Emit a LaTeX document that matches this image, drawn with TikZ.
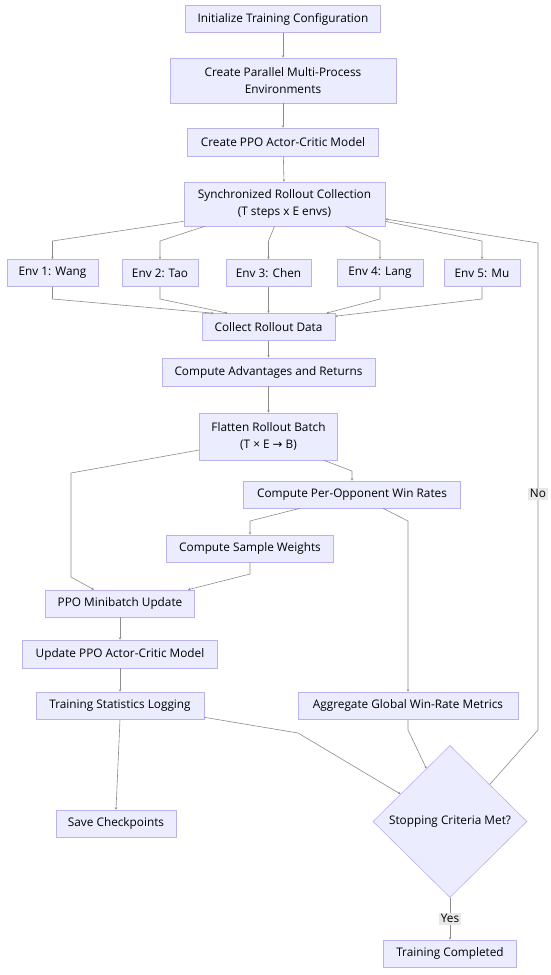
\documentclass[tikz,border=0pt]{standalone}
\usepackage{fontspec}
\setmainfont{Open Sans}
\newfontfamily\arrowfont{DejaVu Sans}
\usetikzlibrary{arrows.meta,shapes.geometric}
\definecolor{boxfill}{HTML}{ECECFF}
\definecolor{boxline}{HTML}{BAB2EC}
\definecolor{edgeline}{HTML}{8C8C8C}
\definecolor{labelfill}{HTML}{E8E8E8}

\begin{document}
\begin{tikzpicture}[x=1pt, y=-1pt,
    box/.style={draw=boxline, fill=boxfill, line width=0.6pt, inner sep=0pt, align=center,
      minimum height=27pt, font=\fontsize{11.8}{17}\selectfont},
    flow/.style={draw=edgeline, line width=0.6pt, -{Stealth[length=2.5pt, width=2.5pt]}},
    lbl/.style={fill=labelfill, inner sep=1.5pt, font=\fontsize{11.8}{13}\selectfont}]
    \useasboundingbox[fill=white] (0,0) rectangle (550,975);

    % setup
    \node[box, minimum width=195pt] (init) at (283,19) {Initialize Training Configuration};
    \node[box, minimum width=226pt, minimum height=45pt] (parallel) at (283,80.5) {Create Parallel Multi-Process\\Environments};
    \node[box, minimum width=191pt, minimum height=28pt] (model) at (283,142) {Create PPO Actor-Critic Model};
    \node[box, minimum width=201pt, minimum height=44pt] (sync) at (284.5,204) {Synchronized Rollout Collection\\(T steps x E envs)};

    % environments
    \node[box, minimum width=91pt] (env1) at (52.5,273) {Env 1: Wang};
    \node[box, minimum width=76pt] (env2) at (160,273) {Env 2: Tao};
    \node[box, minimum width=85pt] (env3) at (268.5,273) {Env 3: Chen};
    \node[box, minimum width=86pt] (env4) at (380,273) {Env 4: Lang};
    \node[box, minimum width=76pt] (env5) at (482,273) {Env 5: Mu};

    % rollout processing
    \node[box, minimum width=133pt] (collect) at (268.5,327) {Collect Rollout Data};
    \node[box, minimum width=213pt, minimum height=28pt] (advantages) at (268.5,372) {Compute Advantages and Returns};
    \node[box, minimum width=138pt, minimum height=47pt] (flatten) at (268.5,436.5) {Flatten Rollout Batch\\(T × E {\arrowfont →} B)};
    \node[box, minimum width=217pt] (winrates) at (352,494.5) {Compute Per-Opponent Win Rates};
    \node[box, minimum width=167pt] (weights) at (250,548.5) {Compute Sample Weights};

    % update and logging
    \node[box, minimum width=149pt] (minibatch) at (120,603.5) {PPO Minibatch Update};
    \node[box, minimum width=195pt, minimum height=28pt] (update) at (120,654) {Update PPO Actor-Critic Model};
    \node[box, minimum width=168pt] (stats) at (120,705.5) {Training Statistics Logging};
    \node[box, minimum width=220pt] (aggregate) at (408,705.5) {Aggregate Global Win-Rate Metrics};
    \node[box, minimum width=120pt] (save) at (116,823.5) {Save Checkpoints};
    \node[box, diamond, minimum width=154pt, minimum height=152pt] (stop) at (450,821.5) {Stopping Criteria Met?};
    \node[box, minimum width=133pt] (done) at (450,953.5) {Training Completed};

    \draw[flow] (init) -- (parallel);
    \draw[flow] (parallel) -- (model);
    \draw[flow] (model) -- (sync);

    \draw[flow] ([yshift=5pt]sync.south west) -- (52.5,241) -- (env1.north);
    \draw[flow] ([xshift=21pt]sync.south west) -- (160,241) -- (env2.north);
    \draw[flow] ([xshift=-10pt]sync.south) -- (268.5,241) -- (env3.north);
    \draw[flow] ([xshift=61pt]sync.south) -- (380,241) -- (env4.north);
    \draw[flow] ([yshift=5pt]sync.south east) -- (482,241) -- (env5.north);

    \draw[flow] (env1.south) -- (52.5,299) -- ([xshift=12pt]collect.north west);
    \draw[flow] (env2.south) -- (160,299) -- ([xshift=26pt]collect.north west);
    \draw[flow] (env3) -- (collect);
    \draw[flow] (env4.south) -- (380,299) -- ([xshift=-9pt]collect.north east);
    \draw[flow] (env5.south) -- (482,299) -- ([yshift=-3pt]collect.north east);

    \draw[flow] (collect) -- (advantages);
    \draw[flow] (advantages) -- (flatten);
    \draw[flow] ([yshift=-13.5pt]flatten.west) -- (71,473) -- (71,577) -- ([xshift=-26pt]minibatch.north);
    \draw[flow] ([xshift=-14pt]flatten.south east) -- (352,471) -- (winrates.north);
    \draw[flow] ([xshift=-52pt]winrates.south) -- (250,521) -- (weights.north);
    \draw[flow] ([xshift=31pt]winrates.south) -- (408,521) -- (aggregate.north);
    \draw[flow] (weights.south) -- (250,574) -- ([xshift=68pt]minibatch.north);

    \draw[flow] (minibatch) -- (update);
    \draw[flow] (update) -- (stats);
    \draw[flow] (stats.south) -- (save.north);
    \draw[flow] ([yshift=2pt]stats.south east) -- (298,733) -- (stop.151);
    \draw[flow] (aggregate.south) -- (408,730) -- (stop.114);

    \draw[flow] (stop.43) -- (538,730) -- (538,243) node[lbl, pos=0.485] {No} -- ([yshift=-15pt]sync.east);
    \draw[flow] (stop.south) -- (done.north) node[lbl, midway] {Yes};
  \end{tikzpicture}
\end{document}
